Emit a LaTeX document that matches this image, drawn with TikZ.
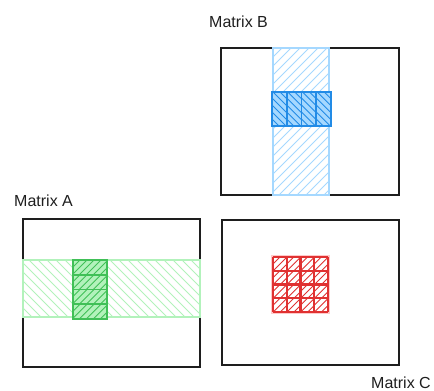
\documentclass[tikz,border=0pt]{standalone}
\usepackage{fontspec}
\setmainfont{Liberation Sans}
\definecolor{ink}    {HTML}{1E1E1E}
\definecolor{cBlueL} {HTML}{A5D8FF}
\definecolor{cBlue}  {HTML}{228BE6}
\definecolor{cGreenL}{HTML}{B2F2BB}
\definecolor{cGreen} {HTML}{40C057}
\definecolor{cRed}   {HTML}{E03131}
\definecolor{cRedL}  {HTML}{FFC9C9}
% x1 y1 x2 y2 colour gap dir (1 = \, -1 = /)
\newcommand{\hatchbar}[7]{%
  \begin{scope}
    \clip (#1,#2) rectangle (#3,#4);
    \pgfmathsetmacro{\hh}{#4-#2}%
    \pgfmathsetmacro{\xs}{#1-\hh}%
    \pgfmathsetmacro{\xn}{\xs+#6}%
    \foreach \xx in {\xs,\xn,...,#3}
      \draw[hatch,draw=#5] (\xx,{#2+(1-#7)/2*\hh}) -- ++(\hh,{#7*\hh});
  \end{scope}%
}

\begin{document}
\begin{tikzpicture}[x=1pt,y=-1pt,
    frame/.style={draw=ink,line width=1.8pt},
    hatch/.style={line width=0.9pt},
    lbl/.style ={anchor=west,font=\fontsize{16}{19}\selectfont,text=ink,inner sep=0pt},
  ]

% fixed bounding box
\useasboundingbox (0,0) rectangle (434,391);

% ---- matrix B --------------------------------------------------------------
\node[lbl] (labB) at (209,22) {Matrix B};
\draw[frame] (221,48) rectangle (399,195);
\hatchbar{273}{48}{329}{195}{cBlueL}{9}{-1}
\draw[cBlueL,line width=1.6pt] (273,48) rectangle (329,195);
\foreach \i in {0,...,3}{
  \pgfmathsetmacro{\xa}{272+\i*14.75}
  \pgfmathsetmacro{\xb}{\xa+14.75}
  \fill[cBlueL] (\xa,92) rectangle (\xb,126);
  \hatchbar{\xa}{92}{\xb}{126}{cBlue}{7}{1}
  \draw[cBlue,line width=1.8pt] (\xa,92) rectangle (\xb,126);
}
\draw[cBlue,line width=2.6pt] (272,92) rectangle (331,126);

% ---- matrix A --------------------------------------------------------------
\node[lbl] (labA) at (14,201) {Matrix A};
\draw[frame] (23,219) rectangle (200,367);
\hatchbar{23}{260}{200}{317}{cGreenL}{9}{1}
\draw[cGreenL,line width=1.6pt] (23,260) rectangle (200,317);
\foreach \i in {0,...,3}{
  \pgfmathsetmacro{\ya}{260+\i*14.75}
  \pgfmathsetmacro{\yb}{\ya+14.75}
  \fill[cGreenL] (73,\ya) rectangle (107,\yb);
  \hatchbar{73}{\ya}{107}{\yb}{cGreen}{7}{-1}
  \draw[cGreen,line width=1.8pt] (73,\ya) rectangle (107,\yb);
}
\draw[cGreen,line width=2.6pt] (73,260) rectangle (107,319);

% ---- matrix C --------------------------------------------------------------
\node[lbl,anchor=east] (labC) at (431,383) {Matrix C};
\draw[frame] (222,220) rectangle (399,365);
\fill[cRedL] (271,255) rectangle (330,314);
\foreach \i in {0,...,3}{
  \foreach \j in {0,...,3}{
    \pgfmathsetmacro{\xa}{273+\i*13.75}
    \pgfmathsetmacro{\xb}{\xa+13.75}
    \pgfmathsetmacro{\ya}{257+\j*13.75}
    \pgfmathsetmacro{\yb}{\ya+13.75}
    \fill[white] (\xa,\ya) rectangle (\xb,\yb);
    \hatchbar{\xa}{\ya}{\xb}{\yb}{cRed}{7}{-1}
  }
}
\foreach \i in {0,...,4}{
  \draw[cRed,line width=2.2pt] ({273+\i*13.75},257) -- ++(0,55);
  \draw[cRed,line width=2.2pt] (273,{257+\i*13.75}) -- ++(55,0);
}

\end{tikzpicture}
\end{document}
